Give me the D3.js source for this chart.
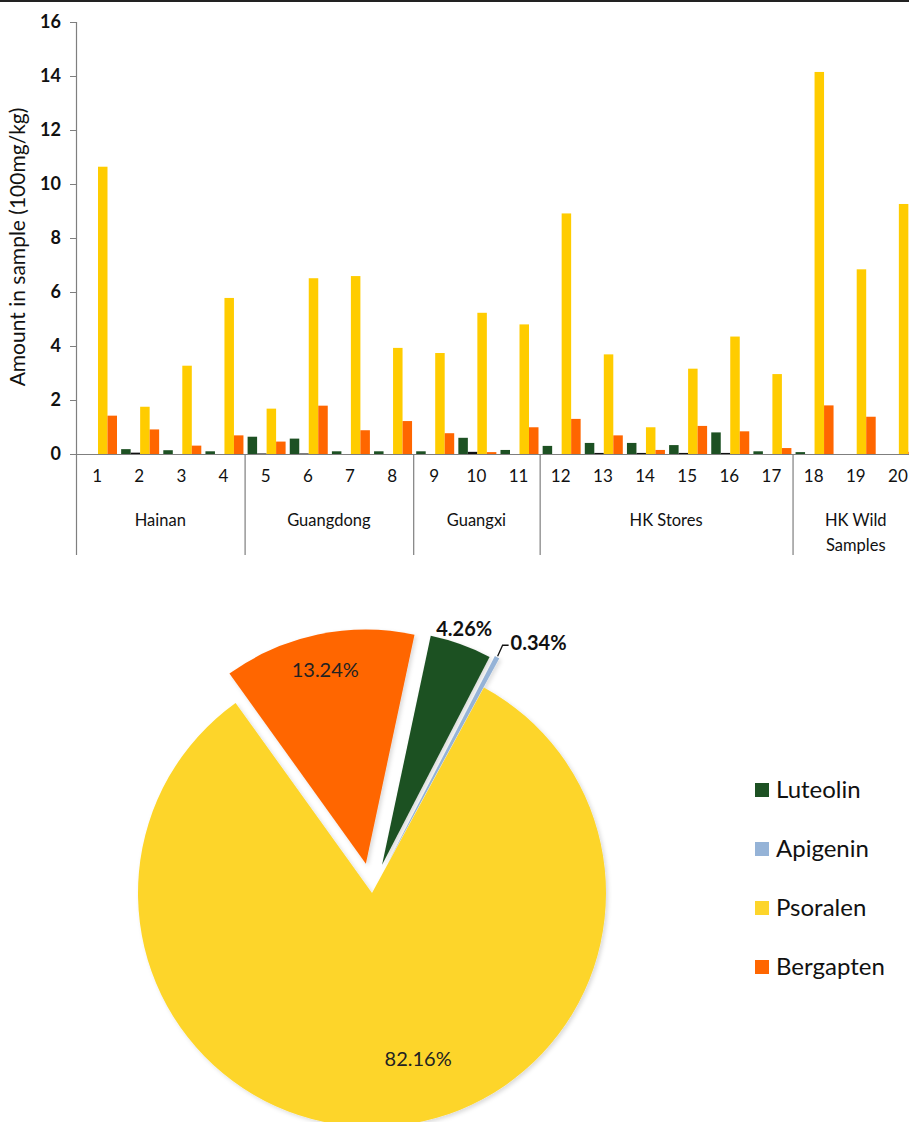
<!DOCTYPE html>
<html>
<head>
<meta charset="utf-8">
<script src="https://cdn.jsdelivr.net/npm/d3@7"></script>
<style>
  body { margin: 0; background: #fff; }
  svg { display: block; font-family: Lato, "Open Sans", sans-serif; }
</style>
</head>
<body>
<script>
/* data */
let samples = ["1","2","3","4","5","6","7","8","9","10","11","12","13","14","15","16","17","18","19","20"];
let groupNames = ["Hainan", "Guangdong", "Guangxi", "HK Stores", "HK Wild\nSamples"];
let groupSizes = [4, 4, 3, 6, 3];
let seriesNames = ["Luteolin", "Apigenin", "Psoralen", "Bergapten"];
let luteolin  = [0, 0.18, 0.14, 0.10, 0.64, 0.57, 0.10, 0.10, 0.10, 0.60, 0.15, 0.30, 0.41, 0.41, 0.33, 0.80, 0.10, 0.07, 0, 0];
let apigenin  = [0, 0.05, 0, 0, 0.02, 0.02, 0, 0, 0, 0.08, 0, 0, 0.04, 0.04, 0.04, 0.04, 0, 0, 0, 0];
let psoralen  = [10.64, 1.75, 3.27, 5.78, 1.68, 6.51, 6.59, 3.93, 3.74, 5.23, 4.80, 8.91, 3.69, 0.99, 3.16, 4.35, 2.96, 14.15, 6.84, 9.26];
let bergapten = [1.42, 0.91, 0.31, 0.69, 0.46, 1.79, 0.88, 1.22, 0.77, 0.07, 0.99, 1.30, 0.69, 0.15, 1.04, 0.84, 0.22, 1.80, 1.38, 0.08];
let yTicks = [0, 2, 4, 6, 8, 10, 12, 14, 16];
let pieValues = [4.26, 0.34, 82.16, 13.24];
let pieLabels = ["4.26%", "0.34%", "82.16%", "13.24%"];

let barColors = ["#1d5123", "#95b3d7", "#ffcc00", "#ff6600"];
let pieColors = ["#1d5123", "#95b3d7", "#fdd52b", "#ff6600"];

let width = 909, height = 1122;
let svg = d3.select("body").append("svg")
  .attr("width", width)
  .attr("height", height);

/* top border */
svg.append("line")
  .attr("x1", 0).attr("x2", width).attr("y1", 1).attr("y2", 1)
  .attr("stroke", "#222").attr("stroke-width", 2);

/* bar chart */
let plotLeft = 76, plotTop = 22, base = 454, bandW = 42.15;
let axisGray = "#7f7f7f";

let y = d3.scaleLinear().domain([0, 16]).range([base, plotTop]);
let x0 = d3.scaleBand().domain(samples).range([plotLeft, plotLeft + samples.length * bandW]);
let x1 = d3.scaleBand().domain(seriesNames).range([3, 41]);

let seriesVals = [luteolin, apigenin, psoralen, bergapten];
let rows = samples.map((s, i) => ({
  sample: s,
  vals: seriesNames.map((n, k) => ({ name: n, k: k, v: seriesVals[k][i] }))
}));

let bars = svg.append("g");
bars.selectAll("g")
  .data(rows)
  .join("g")
  .attr("transform", d => "translate(" + x0(d.sample) + ",0)")
  .selectAll("rect")
  .data(d => d.vals.filter(v => v.v > 0))
  .join("rect")
  .attr("x", d => x1(d.name))
  .attr("width", x1.bandwidth())
  .attr("y", d => y(d.v))
  .attr("height", d => Math.max(base - y(d.v), 1.5))
  .attr("fill", d => d.k === 1 ? "#111" : barColors[d.k]);

/* y axis */
let axisY = d3.axisLeft(y).tickValues(yTicks).tickSize(6).tickPadding(9);
let gy = svg.append("g")
  .attr("transform", "translate(" + plotLeft + ",0)")
  .call(axisY);
gy.select(".domain").remove();
gy.selectAll(".tick line").attr("stroke", axisGray);
gy.selectAll("text")
  .attr("font-size", 18).attr("font-weight", 700).attr("fill", "#111")
  .attr("font-family", "Lato, sans-serif");

svg.append("line")
  .attr("x1", plotLeft + 0.5).attr("x2", plotLeft + 0.5)
  .attr("y1", plotTop).attr("y2", base)
  .attr("stroke", axisGray).attr("stroke-width", 1.2);

svg.append("text")
  .attr("transform", "translate(25," + 247 + ") rotate(-90)")
  .attr("text-anchor", "middle")
  .attr("font-size", 21)
  .attr("fill", "#111")
  .text("Amount in sample (100mg/kg)");

/* x axis */
let axisX = d3.axisBottom(x0).tickSize(0).tickPadding(16);
let gx = svg.append("g")
  .attr("transform", "translate(0," + base + ")")
  .call(axisX);
gx.select(".domain").remove();
gx.selectAll("text")
  .attr("font-size", 17).attr("fill", "#111")
  .attr("font-family", "Lato, sans-serif");

svg.append("line")
  .attr("x1", plotLeft).attr("x2", width)
  .attr("y1", base + 0.5).attr("y2", base + 0.5)
  .attr("stroke", axisGray).attr("stroke-width", 1.2);

/* group separators and names */
let bounds = [0];
groupSizes.forEach(n => bounds.push(bounds[bounds.length - 1] + n));
let sepX = i => i < samples.length ? x0(samples[i]) : x0(samples[samples.length - 1]) + bandW;

svg.append("g").selectAll("line")
  .data(bounds.slice(0, -1))
  .join("line")
  .attr("x1", d => sepX(d) + 0.5).attr("x2", d => sepX(d) + 0.5)
  .attr("y1", base).attr("y2", base + 101)
  .attr("stroke", axisGray).attr("stroke-width", 1.2);

svg.append("g").selectAll("text")
  .data(groupNames)
  .join("text")
  .attr("x", (d, i) => (sepX(bounds[i]) + sepX(bounds[i + 1])) / 2)
  .attr("y", base + 72)
  .attr("text-anchor", "middle")
  .attr("font-size", 16.5)
  .attr("fill", "#111")
  .selectAll("tspan")
  .data(d => d.split("\n"))
  .join("tspan")
  .attr("x", function () { return d3.select(this.parentNode).attr("x"); })
  .attr("dy", (d, i) => i === 0 ? 0 : 25)
  .text(d => d);

/* pie chart */
let cx = 372, cy = 893, radius = 234, explode = [30, 33, 0, 30];
let rot = 12 * Math.PI / 180;

let defs = svg.append("defs");
let f = defs.append("filter").attr("id", "shadow")
  .attr("x", "-10%").attr("y", "-10%").attr("width", "120%").attr("height", "120%");
f.append("feDropShadow")
  .attr("dx", 2).attr("dy", 2).attr("stdDeviation", 2)
  .attr("flood-color", "#000").attr("flood-opacity", 0.15);

let pie = d3.pie().sort(null).startAngle(rot).endAngle(rot + 2 * Math.PI);
let arcs = pie(pieValues);
let arc = d3.arc().innerRadius(0).outerRadius(radius);
let shift = (d, i) => {
  let a = (d.startAngle + d.endAngle) / 2;
  return [Math.sin(a) * explode[i], -Math.cos(a) * explode[i]];
};

let gp = svg.append("g").attr("transform", "translate(" + cx + "," + cy + ")");
gp.selectAll("path")
  .data(arcs)
  .join("path")
  .attr("transform", (d, i) => "translate(" + shift(d, i) + ")")
  .attr("d", arc)
  .attr("fill", (d, i) => pieColors[i])
  .attr("filter", "url(#shadow)");

/* pie labels */
let polar = (a, r) => [Math.sin(a) * r, -Math.cos(a) * r];
let mid = d => (d.startAngle + d.endAngle) / 2;

// 4.26% outside
let p0 = polar(mid(arcs[0]), radius + 46);
gp.append("text")
  .attr("x", p0[0] - 2).attr("y", p0[1] + 7)
  .attr("text-anchor", "middle").attr("font-size", 20).attr("font-weight", 700)
  .attr("fill", "#111").text(pieLabels[0]);

// 0.34% outside with leader
let s1 = shift(arcs[1], 1);
let a1 = mid(arcs[1]);
let e1 = polar(a1, radius + 1);
let lead = [[e1[0] + s1[0], e1[1] + s1[1]]];
lead.push([lead[0][0] + 5, lead[0][1] - 11]);
lead.push([lead[1][0] + 6, lead[1][1]]);
gp.append("path")
  .attr("d", d3.line()(lead))
  .attr("fill", "none").attr("stroke", "#111").attr("stroke-width", 1.3);
gp.append("text")
  .attr("x", lead[2][0] + 2).attr("y", lead[2][1] + 5)
  .attr("font-size", 20).attr("font-weight", 700)
  .attr("fill", "#111").text(pieLabels[1]);

// 82.16% inside
let p2 = polar(mid(arcs[2]) - 12 * Math.PI / 180, 172);
gp.append("text")
  .attr("x", p2[0]).attr("y", p2[1] + 7)
  .attr("text-anchor", "middle").attr("font-size", 20)
  .attr("fill", "#222").text(pieLabels[2]);

// 13.24% inside
let s3 = shift(arcs[3], 3);
let p3 = polar(mid(arcs[3]), 198);
gp.append("text")
  .attr("x", p3[0] + s3[0]).attr("y", p3[1] + s3[1] + 7)
  .attr("text-anchor", "middle").attr("font-size", 20)
  .attr("fill", "#222").text(pieLabels[3]);

/* legend */
let legend = svg.append("g").attr("transform", "translate(755,790)");
let li = legend.selectAll("g")
  .data(seriesNames)
  .join("g")
  .attr("transform", (d, i) => "translate(0," + (i * 59) + ")");
li.append("rect")
  .attr("x", 0).attr("y", -7).attr("width", 14).attr("height", 14)
  .attr("fill", (d, i) => pieColors[i]);
li.append("text")
  .attr("x", 21).attr("y", 8)
  .attr("font-size", 24)
  .attr("fill", "#111")
  .text(d => d);
</script>
</body>
</html>
